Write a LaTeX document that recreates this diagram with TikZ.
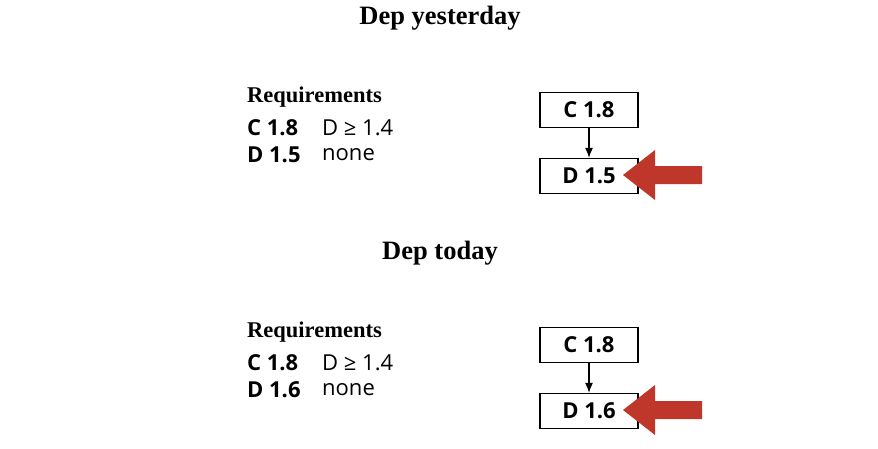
\documentclass[tikz,border=0pt]{standalone}
\usepackage{fontspec}
\setmainfont{Liberation Serif}
\newfontfamily\bodyfont{Open Sans}
\usetikzlibrary{arrows.meta}
\definecolor{arrowred}{RGB}{190,55,42}

\begin{document}
\begin{tikzpicture}
  [x=1pt,y=-1pt,
   title/.style={font=\fontsize{26.5}{30}\selectfont\bfseries},
   reqhead/.style={anchor=west,inner sep=0pt,font=\fontsize{22.5}{26}\selectfont\bfseries},
   pkg/.style={anchor=west,inner sep=0pt,font=\bodyfont\fontsize{22}{26}\selectfont\bfseries},
   need/.style={anchor=west,inner sep=0pt,font=\bodyfont\fontsize{22}{26}\selectfont},
   box/.style={draw,line width=1.3pt,minimum width=98pt,minimum height=35pt,inner sep=0pt,
     font=\bodyfont\fontsize{22}{26}\selectfont\bfseries},
   dep/.style={line width=1.2pt,-{Latex[length=10pt,width=8pt]}},
   pointer/.style={fill=arrowred}]
  \useasboundingbox (0,0) rectangle (878,448);

  % yesterday
  \node[title] (t1) at (440,18) {Dep yesterday};
  \node[reqhead] (r1) at (247,97) {Requirements};
  \node[pkg] (c1) at (247,128) {C 1.8};
  \node[need] (c1n) at (322,128) {D ≥ 1.4};
  \node[pkg] (d1) at (247,155) {D 1.5};
  \node[need] (d1n) at (322,155) {none};

  \node[box] (bc1) at (589,110) {C 1.8};
  \node[box] (bd1) at (589,176) {D 1.5};
  \draw[dep] (bc1) -- (bd1);

  \coordinate (p1) at (623,175);
  \fill[pointer] (p1) -- ++(32,-25) -- ++(0,16) -- ++(47,0) -- ++(0,18)
    -- ++(-47,0) -- ++(0,16) -- cycle;

  % today
  \node[title] (t2) at (440,253) {Dep today};
  \node[reqhead] (r2) at (247,332) {Requirements};
  \node[pkg] (c2) at (247,363) {C 1.8};
  \node[need] (c2n) at (322,363) {D ≥ 1.4};
  \node[pkg] (d2) at (247,390) {D 1.6};
  \node[need] (d2n) at (322,390) {none};

  \node[box] (bc2) at (589,345) {C 1.8};
  \node[box] (bd2) at (589,411) {D 1.6};
  \draw[dep] (bc2) -- (bd2);

  \coordinate (p2) at (623,410);
  \fill[pointer] (p2) -- ++(32,-25) -- ++(0,16) -- ++(47,0) -- ++(0,18)
    -- ++(-47,0) -- ++(0,16) -- cycle;
\end{tikzpicture}
\end{document}
